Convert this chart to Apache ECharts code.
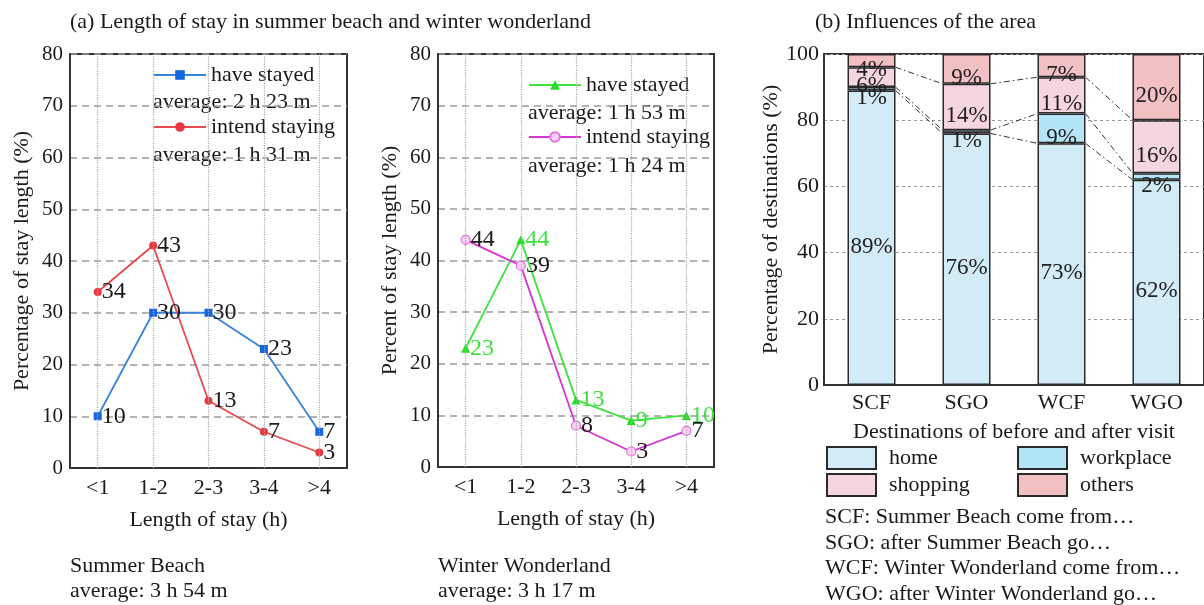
<!DOCTYPE html>
<html>
<head>
<meta charset="utf-8">
<script src="https://cdn.jsdelivr.net/npm/echarts@6/dist/echarts.min.js"></script>
<style>
html,body{margin:0;padding:0;background:#fff;}
#chart{width:1204px;height:605px;}
</style>
</head>
<body>
<div id="chart"></div>
<script>
// ---- data ----
const stayCats = ['<1', '1-2', '2-3', '3-4', '>4'];
const summerHave = [10, 30, 30, 23, 7];
const summerIntend = [34, 43, 13, 7, 3];
const winterHave = [23, 44, 13, 9, 10];
const winterIntend = [44, 39, 8, 3, 7];

const destCats = ['SCF', 'SGO', 'WCF', 'WGO'];
const homeVals = [89, 76, 73, 62];
const workVals = [1, 1, 9, 2];
const shopVals = [6, 14, 11, 16];
const otherVals = [4, 9, 7, 20];

const titleA = '(a) Length of stay in summer beach and winter wonderland';
const titleB = '(b) Influences of the area';
const avgSummerHave = 'average: 2 h 23 m';
const avgSummerIntend = 'average: 1 h 31 m';
const avgWinterHave = 'average: 1 h 53 m';
const avgWinterIntend = 'average: 1 h 24 m';
const summerNote = ['Summer Beach', 'average: 3 h 54 m'];
const winterNote = ['Winter Wonderland', 'average: 3 h 17 m'];
const destNotes = ['SCF: Summer Beach come from\u2026', 'SGO: after Summer Beach go\u2026', 'WCF: Winter Wonderland come from\u2026', 'WGO: after Winter Wonderland go\u2026'];

// ---- styling ----
const FF = 'Liberation Serif, Times New Roman, serif';
const TXT = '#1a1a1a';
const AX = '#333';

const chart = echarts.init(document.getElementById('chart'), null, {renderer: 'canvas'});

const cumA = homeVals.map((v, i) => v);
const cumB = homeVals.map((v, i) => v + workVals[i]);
const cumC = homeVals.map((v, i) => v + workVals[i] + shopVals[i]);

function stayXAxis(idx) {
  return {
    gridIndex: idx, type: 'category', data: stayCats, boundaryGap: true,
    axisLine: {show: true, lineStyle: {color: AX, width: 2}},
    axisTick: {show: false},
    axisLabel: {color: TXT, fontFamily: FF, fontSize: 22, margin: 9},
    splitLine: {show: false},
    name: 'Length of stay (h)', nameLocation: 'middle', nameGap: 41,
    nameTextStyle: {color: TXT, fontFamily: FF, fontSize: 22}
  };
}
function stayYAxis(idx, name, gap) {
  return {
    gridIndex: idx, type: 'value', min: 0, max: 80, interval: 10,
    axisLine: {show: true, lineStyle: {color: AX, width: 2}},
    axisTick: {show: false},
    axisLabel: {color: TXT, fontFamily: FF, fontSize: 21, margin: 7},
    splitLine: {show: true, lineStyle: {color: '#9a9a9a', type: [7, 5], width: 1.5}},
    name: name, nameLocation: 'middle', nameGap: gap,
    nameTextStyle: {color: TXT, fontFamily: FF, fontSize: 22}
  };
}
function vGrid() {
  return {
    silent: true, symbol: 'none', label: {show: false},
    lineStyle: {color: '#aaa', type: 'dotted', width: 1.2},
    emphasis: {disabled: true},
    data: stayCats.map(c => ({xAxis: c}))
  };
}
function lineLabel(color) {
  return {show: true, position: 'right', distance: 0, formatter: '{c}', color: color, fontFamily: FF, fontSize: 24};
}

function barSeries(name, vals, color) {
  return {
    name: name, type: 'bar', stack: 'dest', xAxisIndex: 2, yAxisIndex: 2,
    data: vals, barWidth: 48,
    itemStyle: {color: color, borderColor: '#2a2a2a', borderWidth: 1.5},
    label: {show: true, position: 'inside', offset: [0, 9], formatter: '{c}%', color: '#222', fontFamily: FF, fontSize: 23},
    emphasis: {disabled: true}
  };
}

const legendNames = {sh: 'have stayed', si: 'intend staying', wh: 'have stayed', wi: 'intend staying'};

const option = {
  animation: false,
  backgroundColor: '#fff',
  grid: [
    {left: 70, top: 54, width: 277, height: 414, show: true, borderColor: AX, borderWidth: 2, backgroundColor: 'transparent'},
    {left: 438, top: 54, width: 276, height: 413, show: true, borderColor: AX, borderWidth: 2, backgroundColor: 'transparent'},
    {left: 824, top: 54, width: 385, height: 331, show: true, borderColor: AX, borderWidth: 2, backgroundColor: 'transparent'}
  ],
  xAxis: [
    stayXAxis(0), stayXAxis(1),
    {
      gridIndex: 2, type: 'category', data: destCats,
      axisLine: {show: true, lineStyle: {color: AX, width: 2}},
      axisTick: {show: false},
      axisLabel: {color: TXT, fontFamily: FF, fontSize: 22, margin: 7},
      name: 'Destinations of before and after visit', nameLocation: 'middle', nameGap: 36,
      nameTextStyle: {color: TXT, fontFamily: FF, fontSize: 22}
    }
  ],
  yAxis: [
    stayYAxis(0, 'Percentage of stay length (%)', 37),
    stayYAxis(1, 'Percent of stay length (%)', 37),
    {
      gridIndex: 2, type: 'value', min: 0, max: 100, interval: 20,
      axisLine: {show: true, lineStyle: {color: AX, width: 2}},
      axisTick: {show: false},
      axisLabel: {color: TXT, fontFamily: FF, fontSize: 22, margin: 5},
      splitLine: {show: true, lineStyle: {color: '#999', type: [3, 3], width: 1}},
      name: 'Percentage of destinations (%)', nameLocation: 'middle', nameGap: 31,
      nameTextStyle: {color: TXT, fontFamily: FF, fontSize: 22}
    }
  ],
  legend: [
    {
      left: 153, top: 64, orient: 'vertical', padding: 0, itemGap: 30, itemWidth: 52, itemHeight: 12,
      data: ['sh', 'si'], formatter: n => legendNames[n], selectedMode: false,
      textStyle: {color: TXT, fontFamily: FF, fontSize: 22, backgroundColor: '#fff'}
    },
    {
      left: 528, top: 74, orient: 'vertical', padding: 0, itemGap: 30, itemWidth: 52, itemHeight: 12,
      data: ['wh', 'wi'], formatter: n => legendNames[n], selectedMode: false,
      textStyle: {color: TXT, fontFamily: FF, fontSize: 22, backgroundColor: '#fff'}
    },
    {
      left: 826, top: 446, orient: 'vertical', padding: 0, itemGap: 3, itemWidth: 49, itemHeight: 22,
      icon: 'rect',
      data: ['home', 'shopping'], selectedMode: false,
      textStyle: {color: TXT, fontFamily: FF, fontSize: 22, padding: [0, 0, 0, 8]}
    },
    {
      left: 1017, top: 446, orient: 'vertical', padding: 0, itemGap: 3, itemWidth: 49, itemHeight: 22,
      icon: 'rect',
      data: ['workplace', 'others'], selectedMode: false,
      textStyle: {color: TXT, fontFamily: FF, fontSize: 22, padding: [0, 0, 0, 8]}
    }
  ],
  series: [
    {
      name: 'sh', type: 'line', xAxisIndex: 0, yAxisIndex: 0, data: summerHave,
      symbol: 'rect', symbolSize: 8,
      lineStyle: {color: '#3a82dc', width: 1.8}, itemStyle: {color: '#1565dc'},
      label: lineLabel(TXT), markLine: vGrid(), z: 3
    },
    {
      name: 'si', type: 'line', xAxisIndex: 0, yAxisIndex: 0, data: summerIntend,
      symbol: 'circle', symbolSize: 8,
      lineStyle: {color: '#e84a4e', width: 1.8}, itemStyle: {color: '#e8383e'},
      label: lineLabel(TXT), z: 3
    },
    {
      name: 'wh', type: 'line', xAxisIndex: 1, yAxisIndex: 1, data: winterHave,
      symbol: 'triangle', symbolSize: 9,
      lineStyle: {color: '#3ee23e', width: 1.8}, itemStyle: {color: '#22dd22'},
      label: lineLabel('#3ee03e'), markLine: vGrid(), z: 3
    },
    {
      name: 'wi', type: 'line', xAxisIndex: 1, yAxisIndex: 1, data: winterIntend,
      symbol: 'circle', symbolSize: 9,
      lineStyle: {color: '#d634d6', width: 1.8}, itemStyle: {color: '#fbd2f6', borderColor: '#e070e0', borderWidth: 1.2},
      label: lineLabel(TXT), z: 3
    },
    barSeries('home', homeVals, '#d3ebf7'),
    barSeries('workplace', workVals, '#b3e5f7'),
    barSeries('shopping', shopVals, '#f5d5e2'),
    barSeries('others', otherVals, '#f2bfc3'),
    {
      name: 'connectors', type: 'custom', xAxisIndex: 2, yAxisIndex: 2, z: 5, silent: true,
      data: [[0, 0], [1, 0], [2, 0]],
      encode: {x: 0, y: 1},
      renderItem: function (params, api) {
        const i = params.dataIndex;
        const half = 24;
        const children = [cumA, cumB, cumC].map(arr => {
          const p1 = api.coord([i, arr[i]]);
          const p2 = api.coord([i + 1, arr[i + 1]]);
          return {
            type: 'line',
            shape: {x1: p1[0] + half, y1: p1[1], x2: p2[0] - half, y2: p2[1]},
            style: {stroke: '#333', lineWidth: 1, lineDash: [6, 3, 1.5, 3]}
          };
        });
        return {type: 'group', children: children};
      }
    }
  ],
  graphic: [
    {type: 'text', x: 70, y: 22, style: {text: titleA, font: '22px ' + FF, fill: TXT, verticalAlign: 'middle'}},
    {type: 'text', x: 815, y: 22, style: {text: titleB, font: '22px ' + FF, fill: TXT, verticalAlign: 'middle'}},
    {type: 'text', x: 153, y: 102, style: {text: avgSummerHave, font: '22px ' + FF, fill: TXT, verticalAlign: 'middle', backgroundColor: '#fff'}},
    {type: 'text', x: 153, y: 155, style: {text: avgSummerIntend, font: '22px ' + FF, fill: TXT, verticalAlign: 'middle', backgroundColor: '#fff'}},
    {type: 'text', x: 528, y: 113, style: {text: avgWinterHave, font: '22px ' + FF, fill: TXT, verticalAlign: 'middle', backgroundColor: '#fff'}},
    {type: 'text', x: 528, y: 166, style: {text: avgWinterIntend, font: '22px ' + FF, fill: TXT, verticalAlign: 'middle', backgroundColor: '#fff'}},
    {type: 'text', x: 70, y: 566, style: {text: summerNote[0], font: '22px ' + FF, fill: TXT, verticalAlign: 'middle'}},
    {type: 'text', x: 70, y: 591, style: {text: summerNote[1], font: '22px ' + FF, fill: TXT, verticalAlign: 'middle'}},
    {type: 'text', x: 438, y: 566, style: {text: winterNote[0], font: '22px ' + FF, fill: TXT, verticalAlign: 'middle'}},
    {type: 'text', x: 438, y: 591, style: {text: winterNote[1], font: '22px ' + FF, fill: TXT, verticalAlign: 'middle'}},
    {type: 'text', x: 825, y: 517, style: {text: destNotes[0], font: '22px ' + FF, fill: TXT, verticalAlign: 'middle'}},
    {type: 'text', x: 825, y: 543, style: {text: destNotes[1], font: '22px ' + FF, fill: TXT, verticalAlign: 'middle'}},
    {type: 'text', x: 825, y: 568, style: {text: destNotes[2], font: '22px ' + FF, fill: TXT, verticalAlign: 'middle'}},
    {type: 'text', x: 825, y: 594, style: {text: destNotes[3], font: '22px ' + FF, fill: TXT, verticalAlign: 'middle'}}
  ]
};
chart.setOption(option);
</script>
</body>
</html>
